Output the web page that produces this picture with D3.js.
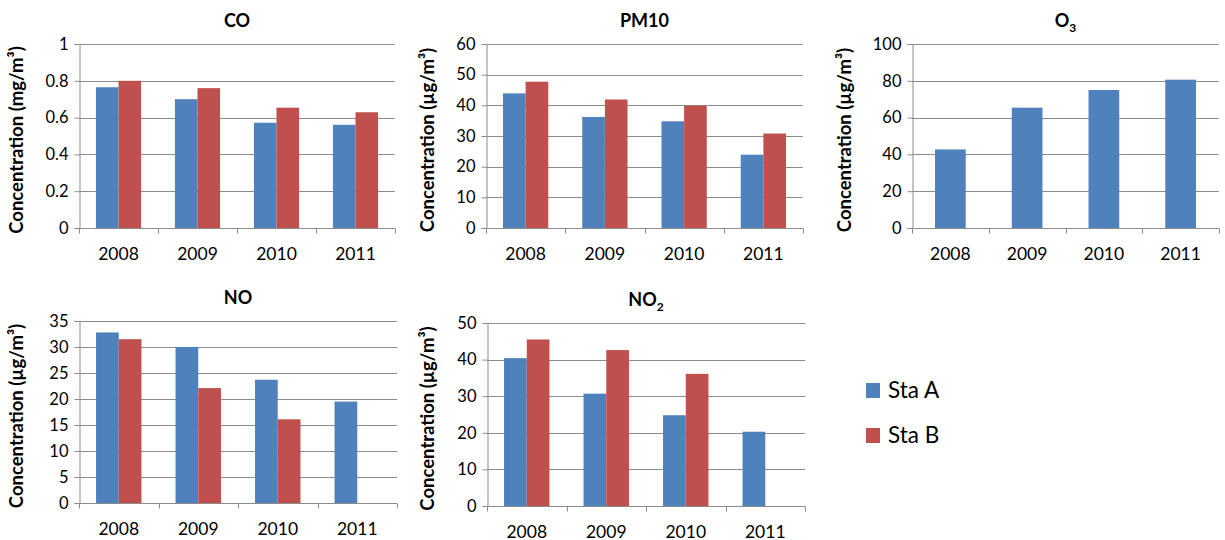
<!DOCTYPE html>
<html>
<head>
<meta charset="utf-8">
<script src="https://cdn.jsdelivr.net/npm/d3@7"></script>
<style>
  body { margin: 0; background: #fff; }
  svg text { font-family: Lato, "Open Sans", sans-serif; fill: #000; }
</style>
</head>
<body>
<script>
// data
const years = ['2008', '2009', '2010', '2011'];
const series = ['Sta A', 'Sta B'];

const coA = [0.765, 0.70, 0.572, 0.561];
const coB = [0.80, 0.76, 0.654, 0.629];
const pm10A = [43.9, 36.2, 34.8, 23.9];
const pm10B = [47.7, 41.9, 39.9, 30.8];
const o3A = [42.7, 65.4, 75.0, 80.6];
const noA = [32.8, 30.0, 23.7, 19.5];
const noB = [31.5, 22.1, 16.1, null];
const no2A = [40.4, 30.7, 24.8, 20.3];
const no2B = [45.5, 42.6, 36.1, null];

const yMaxes = { co: 1, pm10: 60, o3: 100, no: 35, no2: 50 };
const yTicks = {
  co: [0, 0.2, 0.4, 0.6, 0.8, 1],
  pm10: [0, 10, 20, 30, 40, 50, 60],
  o3: [0, 20, 40, 60, 80, 100],
  no: [0, 5, 10, 15, 20, 25, 30, 35],
  no2: [0, 10, 20, 30, 40, 50]
};

const colors = { 'Sta A': '#4f81bd', 'Sta B': '#c0504d' };

// panel layout (plot area in page pixels)
const panels = [
  { key: 'co', title: ['CO'], unit: 'mg', vals: [coA, coB], x0: 79, x1: 395, y0: 44, y1: 228, lx: 17 },
  { key: 'pm10', title: ['PM10'], unit: 'µg', vals: [pm10A, pm10B], x0: 486, x1: 803, y0: 44, y1: 228, lx: 428 },
  { key: 'o3', title: ['O', '3'], unit: 'µg', vals: [o3A], x0: 912, x1: 1219, y0: 44, y1: 228, lx: 845 },
  { key: 'no', title: ['NO'], unit: 'µg', vals: [noA, noB], x0: 79, x1: 397, y0: 321, y1: 503, lx: 17 },
  { key: 'no2', title: ['NO', '2'], unit: 'µg', vals: [no2A, no2B], x0: 487, x1: 805, y0: 323, y1: 506, lx: 428 }
];

const svg = d3.select('body').append('svg')
  .attr('width', 1225)
  .attr('height', 540);

const gridColor = '#8c8c8c';

panels.forEach(p => {
  const g = svg.append('g');
  const used = series.slice(0, p.vals.length);

  const x = d3.scaleBand().domain(years).range([p.x0, p.x1]);
  const xs = d3.scaleBand().domain(used).range([0, x.bandwidth()])
    .paddingInner(0).paddingOuter(0.75);
  const y = d3.scaleLinear().domain([0, yMaxes[p.key]]).range([p.y1, p.y0]);

  // gridlines
  g.selectAll('.grid')
    .data(yTicks[p.key].filter(d => d > 0))
    .join('line')
      .attr('x1', p.x0).attr('x2', p.x1)
      .attr('y1', d => Math.round(y(d)) + 0.5).attr('y2', d => Math.round(y(d)) + 0.5)
      .attr('stroke', gridColor).attr('stroke-width', 1);

  // bars
  const rows = [];
  years.forEach((yr, i) => used.forEach((s, k) => {
    const v = p.vals[k][i];
    if (v != null) rows.push({ yr, s, v });
  }));
  g.selectAll('.bar')
    .data(rows)
    .join('rect')
      .attr('x', d => x(d.yr) + xs(d.s))
      .attr('y', d => y(d.v))
      .attr('width', xs.bandwidth())
      .attr('height', d => y(0) - y(d.v))
      .attr('fill', d => colors[d.s]);

  // y axis
  const yAxis = d3.axisLeft(y)
    .tickValues(yTicks[p.key])
    .tickSize(5)
    .tickPadding(6)
    .tickFormat(d => +d.toFixed(1));
  const ya = g.append('g')
    .attr('transform', `translate(${p.x0 + 0.5},0)`)
    .call(yAxis);
  ya.select('.domain').attr('stroke', gridColor);
  ya.selectAll('.tick line').attr('stroke', gridColor);
  ya.selectAll('.tick text').style('font-size', '16.5px').attr('fill', '#000');

  // x axis
  const xa = g.append('g')
    .attr('transform', `translate(0,${Math.round(p.y1) + 0.5})`);
  xa.append('line')
    .attr('x1', p.x0).attr('x2', p.x1)
    .attr('stroke', gridColor);
  xa.selectAll('.xt')
    .data(years.map(d => x(d)).concat([x.range()[1]]))
    .join('line')
      .attr('x1', d => Math.round(d) + 0.5).attr('x2', d => Math.round(d) + 0.5)
      .attr('y1', 0).attr('y2', 5)
      .attr('stroke', gridColor);
  xa.selectAll('.xl')
    .data(years)
    .join('text')
      .attr('x', d => x(d) + x.bandwidth() / 2)
      .attr('y', 31)
      .attr('text-anchor', 'middle')
      .style('font-size', '17.5px')
      .text(d => d);

  // title
  const t = g.append('text')
    .attr('x', (p.x0 + p.x1) / 2)
    .attr('y', p.y0 - 17)
    .attr('text-anchor', 'middle')
    .style('font-size', '18px')
    .style('font-weight', 'bold');
  t.append('tspan').text(p.title[0]);
  if (p.title[1]) {
    t.append('tspan').attr('dy', 5).style('font-size', '12px').text(p.title[1]);
  }

  // y label
  const cy = (p.y0 + p.y1) / 2 + 4;
  g.append('text')
    .attr('transform', `translate(${p.lx},${cy}) rotate(-90)`)
    .attr('text-anchor', 'middle')
    .attr('dy', '0.35em')
    .style('font-size', '18.5px')
    .style('font-weight', 'bold')
    .text(`Concentration (${p.unit}/m³)`);
});

// legend
const legend = svg.append('g').attr('transform', 'translate(866,383)');
legend.selectAll('g')
  .data(series)
  .join('g')
    .attr('transform', (d, i) => `translate(0,${i * 45})`)
    .call(sel => {
      sel.append('rect')
        .attr('width', 14).attr('height', 15)
        .attr('fill', d => colors[d]);
      sel.append('text')
        .attr('x', 22).attr('y', 15)
        .style('font-size', '22.5px')
        .text(d => d);
    });
</script>
</body>
</html>
